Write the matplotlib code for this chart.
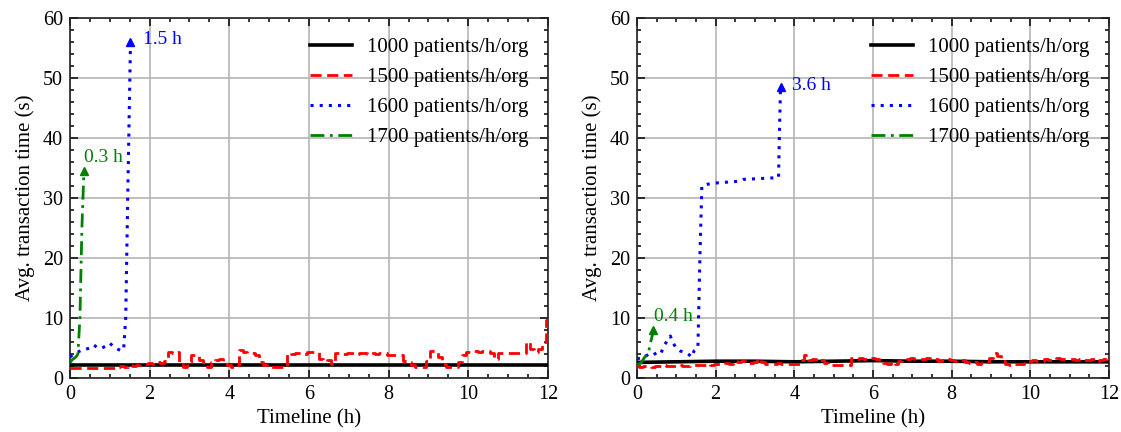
import numpy as np
import matplotlib
matplotlib.use("Agg")
import matplotlib.pyplot as plt
from matplotlib.ticker import MultipleLocator

plt.rcParams['font.family'] = ['Liberation Serif', 'DejaVu Serif']
plt.rcParams['mathtext.fontset'] = 'stix'

# ---------------- data ----------------
labels = ["1000 patients/h/org", "1500 patients/h/org",
          "1600 patients/h/org", "1700 patients/h/org"]

t_red = np.round(np.arange(0, 12.01, 0.1), 1)

# Left panel
L_black_t = [0, 12]
L_black_y = [2.2, 2.2]
L_red_y = [1.6, 1.6, 1.7, 1.6, 1.6, 1.7, 1.6, 1.7, 1.6, 1.7, 1.7, 1.6,
           1.9, 2.0, 1.8, 2.1, 2.0,
           2.2, 2.4, 2.3, 2.5, 2.4, 2.6, 2.5,
           2.8, 4.3, 4.2, 4.3, 2.5, 1.9,
           2.7, 3.8, 3.8, 3.0, 2.2, 1.9, 2.7, 3.0, 3.1, 2.7,
           2.2, 1.9, 2.2, 4.6, 4.4, 4.1, 4.1, 3.8, 2.7, 2.2,
           1.9, 1.8, 1.9, 1.9, 1.9, 4.1, 4.0, 4.1, 4.1, 4.0,
           4.4, 4.3, 4.3, 3.2, 2.9, 3.0, 2.4, 4.1, 4.1, 4.0,
           4.1, 4.1, 4.0, 4.1, 4.1, 4.0, 4.1, 4.0, 4.1, 4.1,
           3.9, 3.9, 3.8, 3.9, 2.9, 2.7, 2.1, 1.9, 1.9, 1.9,
           2.9, 4.5, 4.5, 3.5, 2.4, 1.8, 1.8, 1.9, 2.7, 3.8,
           4.4, 4.5, 4.5, 4.4, 4.5, 4.5, 4.1, 3.2, 4.1, 4.2,
           4.2, 4.1, 4.2, 4.2, 4.1, 6.0, 4.9, 4.4, 4.9, 6.0,
           9.7]
L_blue_t = [0, 0.1, 0.2, 0.3, 0.4, 0.5, 0.6, 0.7, 0.8, 0.9, 1.0, 1.1, 1.2, 1.3, 1.35, 1.4, 1.45, 1.52]
L_blue_y = [3.5, 4.0, 4.3, 4.7, 4.8, 5.0, 5.5, 5.0, 5.0, 5.3, 5.8, 5.2, 4.8, 4.5, 5.0, 10.0, 30.0, 56.0]
L_green_t = [0, 0.05, 0.15, 0.2, 0.25, 0.3, 0.35]
L_green_y = [2.5, 3.0, 3.5, 4.0, 10.0, 25.0, 34.5]

# Right panel
R_black_t = [0, 1, 2, 3, 4, 5, 6, 7, 8, 9, 10, 11, 12]
R_black_y = [2.6, 2.7, 2.8, 2.8, 2.7, 2.8, 2.9, 2.8, 2.8, 2.7, 2.7, 2.7, 2.7]
R_red_y = [2.0, 1.9, 2.0, 2.0, 1.9, 2.0, 2.0, 2.1, 2.0, 2.0,
           2.0, 2.1, 2.0, 2.0, 2.1, 2.2, 2.2, 2.1, 2.3, 2.2,
           2.4, 2.3, 2.4, 2.5, 2.4, 2.8, 2.7, 2.8, 2.5, 2.5,
           2.6, 3.1, 2.7, 2.4, 2.3, 2.4, 2.5, 2.4, 2.3, 2.4,
           2.3, 2.3, 3.0, 3.9, 3.0, 3.1, 2.9, 3.0, 2.5, 2.2,
           2.2, 2.1, 2.2, 2.2, 2.1, 3.4, 3.2, 3.3, 3.1, 3.2,
           3.3, 3.1, 3.0, 2.5, 2.4, 2.6, 2.4, 2.9, 3.2, 3.1,
           3.3, 3.2, 3.1, 3.2, 3.3, 3.1, 3.2, 2.9, 3.0, 3.1,
           3.0, 2.9, 3.0, 3.0, 2.6, 2.5, 2.6, 2.4, 2.5, 2.6,
           3.3, 4.1, 3.7, 2.8, 2.3, 2.2, 2.3, 2.4, 2.3, 2.9,
           2.9, 3.0, 2.8, 2.9, 3.1, 3.0, 3.2, 3.3, 3.1, 3.2,
           3.1, 3.2, 3.0, 3.1, 3.0, 3.0, 3.1, 2.9, 3.0, 3.2,
           3.6]
R_blue_t = [0, 0.2, 0.3, 0.4, 0.5, 0.6, 0.7, 0.8, 0.85, 0.9, 1.0, 1.1, 1.2, 1.3, 1.4, 1.45, 1.55,
            1.6, 1.65, 1.8, 2.0, 2.6, 2.7, 3.6, 3.62, 3.65]
R_blue_y = [3.2, 3.5, 4.0, 3.8, 4.2, 4.0, 5.5, 6.5, 7.0, 6.0, 5.0, 4.5, 4.3, 4.0, 3.5, 4.5, 5.0,
            20.0, 32.0, 32.3, 32.5, 32.8, 33.1, 33.4, 40.0, 48.5]
R_green_t = [0, 0.1, 0.2, 0.3, 0.35, 0.42]
R_green_y = [2.2, 2.5, 3.5, 4.5, 6.0, 8.0]

annot_L = [("1.5 h", 1.83, 56.5, "blue"), ("0.3 h", 0.35, 36.8, "green")]
annot_R = [("3.6 h", 3.95, 48.8, "blue"), ("0.4 h", 0.44, 10.2, "green")]

# ---------------- figure ----------------
fig = plt.figure(figsize=(11.21, 4.32), dpi=100)
axL = fig.add_axes([0.0624, 0.125, 0.4264, 0.8333])
axR = fig.add_axes([0.5682, 0.125, 0.4210, 0.8333])

panels = [
    (axL, (L_black_t, L_black_y), L_red_y, (L_blue_t, L_blue_y), (L_green_t, L_green_y), annot_L),
    (axR, (R_black_t, R_black_y), R_red_y, (R_blue_t, R_blue_y), (R_green_t, R_green_y), annot_R),
]

for ax, blk, red, blu, grn, ann in panels:
    ax.plot(blk[0], blk[1], color='black', lw=2.6, ls='-', label=labels[0], zorder=3)
    ax.plot(t_red, red, color='red', lw=2.0, ls=(0, (4, 2)), drawstyle='steps-mid',
            label=labels[1], zorder=4)
    ax.plot(blu[0], blu[1], color='blue', lw=2.2, ls=(0, (1, 2)), label=labels[2], zorder=5)
    ax.plot(grn[0], grn[1], color='green', lw=2.0, ls=(0, (5, 2, 1, 2)), label=labels[3], zorder=6)
    ax.plot(blu[0][-1], blu[1][-1], marker='^', color='blue', ms=6, zorder=7)
    ax.plot(grn[0][-1], grn[1][-1], marker='^', color='green', ms=6, zorder=7)
    for txt, x, y, c in ann:
        ax.text(x, y, txt, color=c, fontsize=14, ha='left', va='center', zorder=8)

    ax.set_xlim(0, 12)
    ax.set_ylim(0, 60)
    ax.xaxis.set_major_locator(MultipleLocator(2))
    ax.xaxis.set_minor_locator(MultipleLocator(0.5))
    ax.yaxis.set_major_locator(MultipleLocator(10))
    ax.yaxis.set_minor_locator(MultipleLocator(2))
    ax.tick_params(which='both', direction='in', top=True, right=True, labelsize=14.5,
                   width=1.1, colors='black', pad=5)
    ax.tick_params(which='major', length=6)
    ax.tick_params(which='minor', length=3)
    ax.grid(True, which='major', color='#b5b5b5', lw=1.2, zorder=0)
    ax.set_axisbelow(True)
    for s in ax.spines.values():
        s.set_linewidth(1.2)
        s.set_color('#222222')
    ax.set_xlabel("Timeline (h)", fontsize=15, labelpad=4)
    ax.set_ylabel("Avg. transaction time (s)", fontsize=15, labelpad=6)
    ax.legend(loc='upper right', bbox_to_anchor=(0.985, 0.98), frameon=False, fontsize=15,
              handlelength=2.0, handletextpad=0.72, labelspacing=0.5, borderaxespad=0.2)

fig.savefig("out.png", dpi=100)
